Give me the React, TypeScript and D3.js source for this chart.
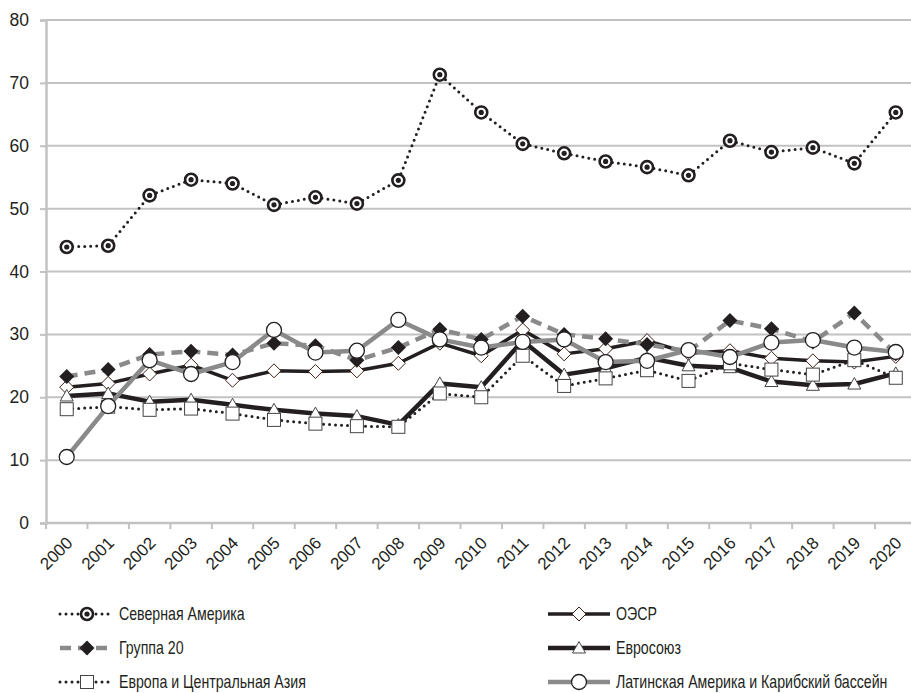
import * as d3 from "d3";
import { useEffect, useRef } from "react";

const years = ["2000", "2001", "2002", "2003", "2004", "2005", "2006", "2007", "2008", "2009", "2010",
    "2011", "2012", "2013", "2014", "2015", "2016", "2017", "2018", "2019", "2020"];

const northAmerica = [43.9, 44.1, 52.1, 54.6, 54.0, 50.6, 51.8, 50.8, 54.5, 71.3, 65.3, 60.3, 58.8, 57.5, 56.6, 55.3, 60.8, 59.0, 59.7, 57.2, 65.3];
const oecd = [21.6, 22.2, 23.7, 25.1, 22.7, 24.2, 24.1, 24.2, 25.4, 28.6, 26.6, 30.7, 26.9, 27.7, 29.0, 27.0, 27.4, 26.2, 25.8, 25.6, 26.5];
const g20 = [23.3, 24.4, 26.8, 27.3, 26.7, 28.6, 28.2, 25.9, 27.9, 30.8, 29.2, 32.9, 30.0, 29.3, 28.4, 27.3, 32.2, 30.9, 28.8, 33.4, 26.9];
const eu = [20.2, 20.6, 19.3, 19.6, 18.8, 18.0, 17.4, 17.0, 15.6, 22.2, 21.6, 29.0, 23.6, 24.6, 26.3, 25.0, 24.7, 22.5, 21.9, 22.1, 23.8];
const europeCentralAsia = [18.1, 18.5, 18.0, 18.2, 17.4, 16.4, 15.8, 15.4, 15.3, 20.6, 20.0, 26.6, 21.8, 23.0, 24.3, 22.6, 25.4, 24.4, 23.6, 25.9, 23.1];
const latinAmerica = [10.5, 18.6, 25.9, 23.7, 25.6, 30.7, 27.1, 27.4, 32.3, 29.2, 27.9, 28.8, 29.2, 25.6, 25.8, 27.5, 26.4, 28.7, 29.1, 27.9, 27.2];

const yTicks = [0, 10, 20, 30, 40, 50, 60, 70, 80];

const BLACK = "#231f20";
const GRAY = "#8a8a8a";
const GRID = "#c2c2c4";
const FONT = "'Liberation Sans', Arial, sans-serif";

// plotting order = Excel series order
const series = [
    { name: "Северная Америка", values: northAmerica, color: BLACK, width: 3, dash: "0 6", cap: "round", marker: "bullseye", legend: [0, 0] },
    { name: "ОЭСР", values: oecd, color: BLACK, width: 3.5, dash: null, cap: "butt", marker: "hollowDiamond", legend: [1, 0] },
    { name: "Группа 20", values: g20, color: GRAY, width: 4.5, dash: "11 7", cap: "butt", marker: "diamond", legend: [0, 1] },
    { name: "Евросоюз", values: eu, color: BLACK, width: 4.5, dash: null, cap: "butt", marker: "triangle", legend: [1, 1] },
    { name: "Европа и Центральная Азия", values: europeCentralAsia, color: BLACK, width: 3, dash: "0 6", cap: "round", marker: "square", legend: [0, 2] },
    { name: "Латинская Америка и Карибский бассейн", values: latinAmerica, color: GRAY, width: 4.5, dash: null, cap: "butt", marker: "circle", legend: [1, 2] },
];

const drawMarker = (g, type, x, y) => {
    if (type === "bullseye") {
        g.append("circle").attr("cx", x).attr("cy", y).attr("r", 6).attr("fill", "#fff").attr("stroke", BLACK).attr("stroke-width", 2.6);
        g.append("circle").attr("cx", x).attr("cy", y).attr("r", 2.6).attr("fill", BLACK);
    } else if (type === "circle") {
        g.append("circle").attr("cx", x).attr("cy", y).attr("r", 7.5).attr("fill", "#fff").attr("stroke", BLACK).attr("stroke-width", 1.3);
    } else if (type === "diamond") {
        const s = 7.5;
        g.append("path").attr("d", `M${x},${y - s}L${x + s},${y}L${x},${y + s}L${x - s},${y}Z`).attr("fill", BLACK);
    } else if (type === "hollowDiamond") {
        const s = 7;
        g.append("path").attr("d", `M${x},${y - s}L${x + s},${y}L${x},${y + s}L${x - s},${y}Z`)
            .attr("fill", "#fff").attr("stroke", "#3d2117").attr("stroke-width", 1);
    } else if (type === "triangle") {
        g.append("path").attr("d", `M${x},${y - 6.5}L${x + 6.5},${y + 5}L${x - 6.5},${y + 5}Z`)
            .attr("fill", "#fff").attr("stroke", "#444").attr("stroke-width", 1);
    } else if (type === "square") {
        g.append("rect").attr("x", x - 6.5).attr("y", y - 6.5).attr("width", 13).attr("height", 13)
            .attr("fill", "#fff").attr("stroke", "#444").attr("stroke-width", 1);
    }
};

const App = () => {
    const ref = useRef(null);

    useEffect(() => {
        document.body.style.margin = "0";
        const svg = d3.select(ref.current);
        svg.selectAll("*").remove();

        const xScale = d3.scaleBand().domain(years).range([46, 916.5]).padding(0);
        const yScale = d3.scaleLinear().domain([0, 80]).range([523, 20]);
        const cx = (i) => xScale(years[i]) + xScale.bandwidth() / 2;

        // grid
        svg.selectAll("line.grid").data(yTicks.filter(d => d > 0)).enter()
            .append("line")
            .attr("x1", 46).attr("x2", 916)
            .attr("y1", d => yScale(d)).attr("y2", d => yScale(d))
            .attr("stroke", GRID).attr("stroke-width", 2);

        // y axis
        const yAxis = svg.append("g").attr("transform", "translate(46,0)")
            .call(d3.axisLeft(yScale).tickValues(yTicks).tickSize(6).tickPadding(11));
        yAxis.select(".domain").attr("stroke", GRID).attr("stroke-width", 2.5);
        yAxis.selectAll(".tick line").attr("stroke", GRID).attr("stroke-width", 2);
        yAxis.selectAll(".tick text").attr("fill", BLACK).style("font-family", FONT).style("font-size", "17.5px");

        // x axis
        const xAxis = svg.append("g").attr("transform", "translate(0,523)");
        xAxis.append("line").attr("x1", 45).attr("x2", 916).attr("y1", 0).attr("y2", 0).attr("stroke", GRID).attr("stroke-width", 2.5);
        xAxis.selectAll("line.tick").data(d3.range(years.length + 1)).enter()
            .append("line")
            .attr("x1", d => 46 + d * xScale.step()).attr("x2", d => 46 + d * xScale.step())
            .attr("y1", 0).attr("y2", 6)
            .attr("stroke", GRID).attr("stroke-width", 2);
        xAxis.selectAll("text").data(years).enter()
            .append("text")
            .attr("transform", (d, i) => `translate(${cx(i) + 7},${21}) rotate(-45)`)
            .attr("text-anchor", "end")
            .attr("fill", BLACK)
            .style("font-family", FONT)
            .style("font-size", "17px")
            .text(d => d);

        const lineBuilder = d3.line().x((d, i) => cx(i)).y(d => yScale(d));

        series.forEach(s => {
            const g = svg.append("g");
            g.append("path")
                .attr("d", lineBuilder(s.values))
                .attr("fill", "none")
                .attr("stroke", s.color)
                .attr("stroke-width", s.width)
                .attr("stroke-linecap", s.cap)
                .attr("stroke-linejoin", "round")
                .attr("stroke-dasharray", s.dash);
            s.values.forEach((v, i) => drawMarker(g, s.marker, cx(i), yScale(v)));
        });

        // legend (condensed text, like the original narrow typeface)
        const colX = [[60, 87, 113], [548, 579, 610]];
        const rowY = [614, 648, 682];
        series.forEach(s => {
            const [c, r] = s.legend;
            const g = svg.append("g");
            const [x1, x, x2] = colX[c];
            const y = rowY[r];
            g.append("line")
                .attr("x1", x1).attr("x2", x2).attr("y1", y).attr("y2", y)
                .attr("stroke", s.color)
                .attr("stroke-width", s.width)
                .attr("stroke-linecap", s.cap)
                .attr("stroke-dasharray", s.dash);
            drawMarker(g, s.marker, x, y);
            g.append("text")
                .attr("transform", `translate(${x2 + 6},${y}) scale(0.81,1)`)
                .attr("dy", "0.35em")
                .attr("fill", BLACK)
                .style("font-family", FONT)
                .style("font-size", "17.5px")
                .text(s.name);
        });
    }, []);

    return <svg ref={ref} width={911} height={693} style={{ display: "block", position: "absolute", left: 0, top: 0 }} />;
};

export default App;
